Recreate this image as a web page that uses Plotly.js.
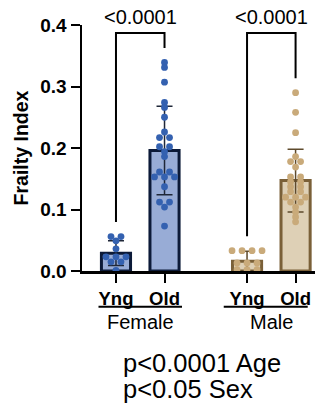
<!DOCTYPE html>
<html>
<head>
<meta charset="utf-8">
<script src="https://cdn.plot.ly/plotly-3.0.1.min.js"></script>
<style>
  html, body { margin: 0; padding: 0; background: #fff; }
  #chart { width: 325px; height: 409px; }
</style>
</head>
<body>
<div id="chart"></div>
<script>
// ---- data ----
const ageLabels = ['Yng', 'Old', 'Yng', 'Old'];
const sexLabels = ['Female', 'Male'];
const femaleYng = [0.056, 0.056, 0.049, 0.036, 0.023, 0.023, 0.023, 0.015, 0.015, 0.001];
const femaleOld = [0.339, 0.331, 0.307, 0.274, 0.266, 0.250, 0.226, 0.217, 0.217, 0.202, 0.202,
                   0.194, 0.186, 0.161, 0.161, 0.153, 0.153, 0.153, 0.137, 0.112, 0.112, 0.104, 0.073];
const maleYng   = [0.033, 0.033, 0.033, 0.033, 0.013, 0.013, 0.013, 0.002, 0.002, 0.002];
const maleOld   = [0.290, 0.258, 0.225, 0.186, 0.178, 0.178, 0.169, 0.153, 0.153, 0.145, 0.145,
                   0.137, 0.137, 0.129, 0.129, 0.120, 0.120, 0.120, 0.112, 0.112, 0.104, 0.096, 0.088, 0.080];
const femaleMeans = [0.029, 0.196];
const femaleSD    = [0.020, 0.072];
const maleMeans   = [0.016, 0.147];
const maleSD      = [0.016, 0.051];
const pValues = ['<0.0001', '<0.0001'];
const footnotes = ['p<0.0001 Age', 'p<0.05 Sex'];

// ---- styling / layout ----
const xPos = [1, 2, 3.7, 4.7];
const FONT = 'Liberation Sans, Arial, Helvetica, sans-serif';
const fBlue = '#3461b0', fFill = 'rgba(152,172,214,1)', fEdge = '#0c1a38';
const mTan = '#c9aa7a', mFill = 'rgba(222,208,182,1)', mEdge = '#7a6038';

// simple swarm: identical values placed side by side
function swarm(vals, center, step) {
  const counts = {}, idx = {};
  vals.forEach(v => { const k = v.toFixed(3); counts[k] = (counts[k] || 0) + 1; });
  return vals.map(v => {
    const k = v.toFixed(3); idx[k] = (idx[k] || 0);
    const i = idx[k]++; return center + (i - (counts[k] - 1) / 2) * step;
  });
}
const STEP = 0.206;

const traces = [
  { type: 'bar', x: [xPos[0], xPos[1]], y: femaleMeans, width: 0.6,
    marker: { color: fFill, line: { color: fEdge, width: 3 } },
    error_y: { type: 'data', array: femaleSD, visible: true, color: '#1f2738', thickness: 1.5, width: 8 },
    hoverinfo: 'skip' },
  { type: 'bar', x: [xPos[2], xPos[3]], y: maleMeans, width: 0.6,
    marker: { color: mFill, line: { color: mEdge, width: 3 } },
    error_y: { type: 'data', array: maleSD, visible: true, color: '#5e4a2c', thickness: 1.5, width: 8 },
    hoverinfo: 'skip' }
];
const groupsData = [femaleYng, femaleOld, maleYng, maleOld];
groupsData.forEach((vals, g) => {
  traces.push({ type: 'scatter', mode: 'markers', x: swarm(vals, xPos[g], STEP), y: vals,
    marker: { color: g < 2 ? fBlue : mTan, size: 6.8 }, cliponaxis: false, hoverinfo: 'skip' });
});

// significance brackets
const shapes = [], annotations = [];
const bracketTop = 0.387, pad = 0.0235;
for (let s = 0; s < 2; s++) {
  const a = groupsData[2 * s], b = groupsData[2 * s + 1];
  const xa = xPos[2 * s], xb = xPos[2 * s + 1];
  const ya = Math.max(...a) + pad, yb = Math.max(...b) + pad;
  shapes.push({ type: 'path', xref: 'x', yref: 'y',
    path: `M ${xa} ${ya} L ${xa} ${bracketTop} L ${xb} ${bracketTop} L ${xb} ${yb}`,
    line: { color: '#000', width: 2 } });
  annotations.push({ xref: 'x', yref: 'y', x: (xa + xb) / 2, y: bracketTop, yanchor: 'bottom', yshift: 3,
    text: pValues[s], showarrow: false, font: { family: FONT, size: 20, color: '#000' } });
}
// group underlines and sex labels
const lineExt = [[0.64, 2.36], [3.22, 4.95]];
for (let s = 0; s < 2; s++) {
  shapes.push({ type: 'line', xref: 'x', yref: 'paper', x0: lineExt[s][0], x1: lineExt[s][1],
    y0: -0.145, y1: -0.145, line: { color: '#000', width: 2 } });
  annotations.push({ xref: 'x', yref: 'paper', x: (xPos[2 * s] + xPos[2 * s + 1]) / 2, y: -0.207,
    yanchor: 'middle', text: sexLabels[s], showarrow: false,
    font: { family: FONT, size: 20, color: '#000' } });
}
footnotes.forEach((t, i) => {
  annotations.push({ xref: 'paper', yref: 'paper', x: 0.168, xanchor: 'left', y: -0.372 - i * 0.106,
    yanchor: 'middle', text: t, showarrow: false, font: { family: FONT, size: 25.5, color: '#000' } });
});

const layout = {
  width: 325, height: 409,
  margin: { l: 82, r: 10, t: 25, b: 138 },
  paper_bgcolor: '#fff', plot_bgcolor: '#fff',
  showlegend: false, barmode: 'overlay',
  font: { family: FONT, color: '#000' },
  xaxis: { range: [0.3, 5.1], tickvals: xPos, ticktext: ageLabels, showgrid: false, zeroline: false,
    showline: true, linecolor: '#000', linewidth: 2.5, ticks: 'outside', ticklen: 9, tickwidth: 2,
    tickcolor: '#000', tickfont: { family: FONT, size: 18.5, weight: 'bold', color: '#000' } },
  yaxis: { range: [0, 0.4], dtick: 0.1, tick0: 0, tickformat: '.1f', showgrid: false, zeroline: false,
    showline: true, linecolor: '#000', linewidth: 2.5, ticks: 'outside', ticklen: 9, tickwidth: 2,
    tickcolor: '#000', tickfont: { family: FONT, size: 19, weight: 'bold', color: '#000' },
    title: { text: 'Frailty Index', standoff: 7, font: { family: FONT, size: 19.5, weight: 'bold', color: '#000' } } },
  shapes: shapes, annotations: annotations
};
Plotly.newPlot('chart', traces, layout, { displayModeBar: false, staticPlot: true });
</script>
</body>
</html>
